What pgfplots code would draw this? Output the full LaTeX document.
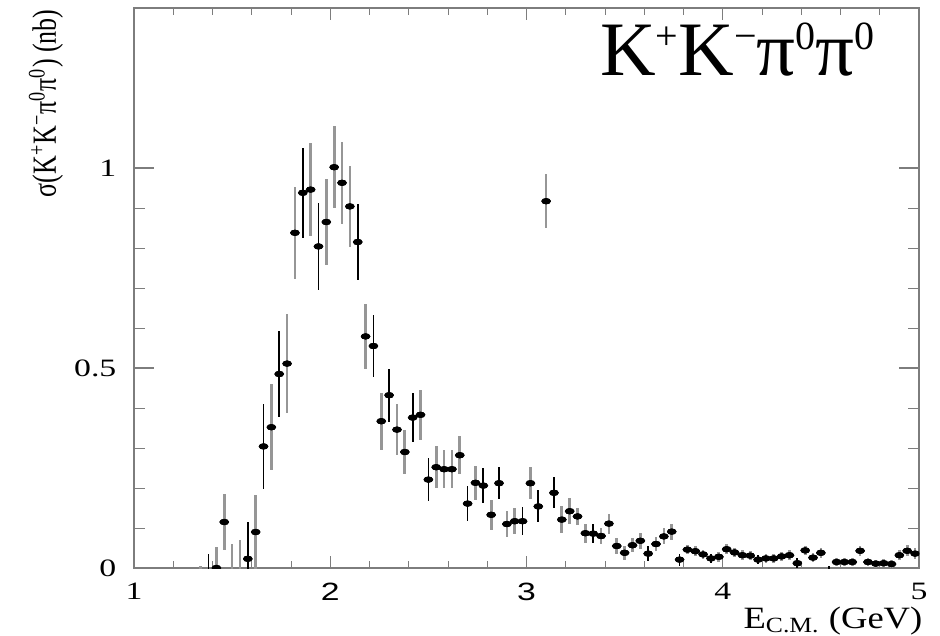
\documentclass[border=0pt]{standalone}
\usepackage{fontspec}
\setmainfont{Liberation Serif}
\setsansfont{Liberation Sans}
\usepackage{pgfplots}
\usepackage{pgfplotstable}
\pgfplotsset{compat=1.18}

\definecolor{axisgray}{RGB}{125,125,125}
\definecolor{bargray}{RGB}{150,150,150}

% small raised index for the channel name
\newcommand\chsup[1]{\raisebox{0.34em}{\fontsize{20}{20}\selectfont #1}}

% cross section (nb) in 40 MeV bins: E, sigma, error
\pgfplotstableread{
E sig err
1.34 -0.010 0.015
1.42 0.000 0.052
1.46 0.115 0.070
1.50 -0.020 0.081
1.54 -0.020 0.089
1.62 0.090 0.092
1.70 0.352 0.108
1.78 0.511 0.123
1.82 0.838 0.115
1.90 0.946 0.117
1.98 0.865 0.108
2.02 1.002 0.103
2.06 0.963 0.102
2.10 0.904 0.101
2.18 0.579 0.081
2.26 0.367 0.071
2.34 0.346 0.063
2.38 0.290 0.055
2.46 0.383 0.062
2.54 0.252 0.053
2.58 0.247 0.048
2.62 0.247 0.048
2.66 0.282 0.047
2.74 0.213 0.043
2.82 0.133 0.038
2.90 0.110 0.033
2.94 0.117 0.033
3.02 0.212 0.040
3.10 0.917 0.067
3.18 0.121 0.033
3.22 0.142 0.032
3.26 0.129 0.022
3.30 0.087 0.024
3.38 0.080 0.020
3.42 0.111 0.025
3.46 0.055 0.020
3.50 0.038 0.018
3.54 0.057 0.018
3.58 0.068 0.020
3.66 0.060 0.018
3.70 0.079 0.020
3.74 0.091 0.020
3.82 0.046 0.012
3.86 0.042 0.012
3.90 0.034 0.012
3.98 0.028 0.012
4.02 0.047 0.012
4.06 0.039 0.012
4.10 0.032 0.012
4.14 0.031 0.012
4.22 0.024 0.012
4.26 0.024 0.012
4.30 0.029 0.012
4.34 0.032 0.012
4.42 0.044 0.012
4.46 0.026 0.012
4.50 0.038 0.012
4.58 0.015 0.010
4.62 0.015 0.010
4.66 0.015 0.010
4.70 0.043 0.012
4.74 0.015 0.010
4.78 0.011 0.010
4.82 0.012 0.010
4.86 0.010 0.010
4.90 0.032 0.012
4.94 0.043 0.014
4.98 0.036 0.014
}\graybins

\pgfplotstableread{
E sig err
1.38 -0.020 0.054
1.58 0.023 0.092
1.66 0.304 0.107
1.74 0.485 0.107
1.86 0.938 0.113
1.94 0.804 0.108
2.14 0.815 0.095
2.22 0.555 0.078
2.30 0.432 0.066
2.42 0.376 0.061
2.50 0.221 0.053
2.70 0.161 0.043
2.78 0.206 0.043
2.86 0.212 0.040
2.98 0.117 0.035
3.06 0.154 0.040
3.14 0.188 0.039
3.34 0.086 0.024
3.62 0.036 0.018
3.78 0.021 0.015
3.94 0.024 0.012
4.18 0.021 0.012
4.38 0.012 0.012
4.54 -0.008 0.014
}\blackbins

\begin{document}
\begin{tikzpicture}
\begin{axis}[
  scale only axis, width=392.5pt, height=280pt,
  xmin=1, xmax=5, ymin=0, ymax=1.4,
  xtick={1,2,3,4,5}, xticklabels={1,\textsf{2},\textsf{3},4,5},
  ytick={0,0.5,1}, yticklabels={0,0.5,1},
  minor x tick num=4, minor y tick num=4,
  tick pos=both, tick align=inside,
  axis line style={axisgray, line width=0.9pt},
  major tick style={axisgray, line width=0.6pt},
  minor tick style={axisgray, line width=0.5pt},
  major tick length=10pt, minor tick length=5.5pt,
  xtick style={/pgfplots/major tick length=6pt, /pgfplots/minor tick length=3.5pt},
  tick label style={font=\fontsize{12.5}{14}\selectfont, xscale=1.35},
  yticklabel style={xshift=-3pt},
  xticklabel style={yshift=-4pt},
  xlabel={E\textsubscript{C.M.} (GeV)},
  xlabel style={at={(axis description cs:0.8904,-0.1075)}, anchor=base,
    font=\fontsize{15.5}{17}\selectfont, xscale=1.18},
  ylabel={σ(K\textsuperscript{+}K\textsuperscript{−}π\textsuperscript{0}π\textsuperscript{0}) (nb)},
  ylabel style={at={(axis description cs:-0.1121,0.8298)}, anchor=center,
    font=\fontsize{13}{15}\selectfont, yscale=1.3},
  clip marker paths=true,
]
  % error bars, grey and black sets
  \addplot[only marks, mark=*, mark size=1.35pt, black,
    mark options={xscale=1.6, fill=black, draw=black},
    error bars/.cd, y dir=both, y explicit, error mark=none,
    error bar style={line width=1.35pt, bargray}]
    table[x=E, y=sig, y error=err]{\graybins};
  \addplot[only marks, mark=*, mark size=1.35pt, black,
    mark options={xscale=1.6, fill=black, draw=black},
    error bars/.cd, y dir=both, y explicit, error mark=none,
    error bar style={line width=0.85pt, black}]
    table[x=E, y=sig, y error=err]{\blackbins};
  % central values on top
  \addplot[only marks, mark=*, mark size=1.35pt, black,
    mark options={xscale=1.6, fill=black, draw=black}]
    table[x=E, y=sig]{\graybins};
  \addplot[only marks, mark=*, mark size=1.35pt, black,
    mark options={xscale=1.6, fill=black, draw=black}]
    table[x=E, y=sig]{\blackbins};

  \node[anchor=base west, font=\fontsize{38.5}{41}\selectfont, inner sep=0pt]
    at (axis description cs:0.5936,0.8798)
    {K\chsup{+}K\chsup{−}π\chsup{0}π\chsup{0}};

  \coordinate (bbsw) at (axis description cs:-0.1707,-0.11964);
  \coordinate (bbne) at (axis description cs:1.02675,1.01429);
\end{axis}
\pgfresetboundingbox
\useasboundingbox (bbsw) rectangle (bbne);
\end{tikzpicture}
\end{document}
